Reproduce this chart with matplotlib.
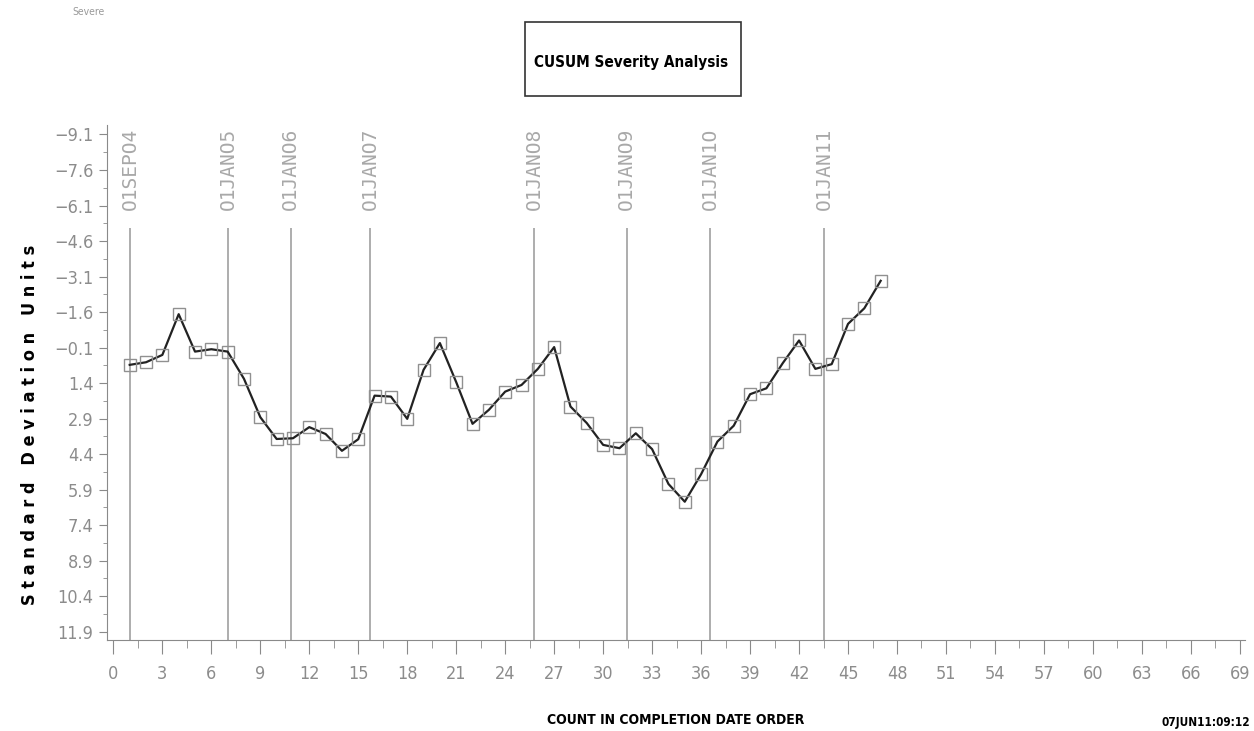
import matplotlib
matplotlib.use("Agg")
import matplotlib.pyplot as plt
from matplotlib.patches import Rectangle
from matplotlib.ticker import MultipleLocator, FixedLocator

# cumulative severity, one point per completed case
count = list(range(1, 48))
cusum = [0.63, 0.52, 0.21, -1.51, 0.07, -0.03, 0.07, 1.22, 2.84, 3.76,
         3.73, 3.26, 3.55, 4.26, 3.77, 1.93, 1.97, 2.91, 0.84, -0.29,
         1.36, 3.12, 2.53, 1.76, 1.48, 0.80, -0.12, 2.39, 3.09, 4.01,
         4.15, 3.52, 4.19, 5.66, 6.41, 5.25, 3.87, 3.20, 1.87, 1.62,
         0.56, -0.40, 0.80, 0.60, -1.10, -1.76, -2.92]

# where each calendar boundary falls along the count axis
date_pos = [1.02, 7.04, 10.86, 15.72, 25.76, 31.44, 36.54, 43.54]
date_lbl = ["01SEP04", "01JAN05", "01JAN06", "01JAN07",
            "01JAN08", "01JAN09", "01JAN10", "01JAN11"]

yticks = [-9.1, -7.6, -6.1, -4.6, -3.1, -1.6, -0.1, 1.4, 2.9, 4.4,
          5.9, 7.4, 8.9, 10.4, 11.9]
xticks = list(range(0, 70, 3))

narrow = dict(family="DejaVu Sans", fontstretch="condensed")
grey = "#8a8a8a"

fig = plt.figure(figsize=(12.54, 7.31), dpi=100)
ax = fig.add_axes([0.0856, 0.1245, 0.907, 0.7045])

ax.set_xlim(-0.37, 69.3)
ax.set_ylim(12.25, -9.5)

ax.vlines(date_pos, 12.25, -5.15, color="#a0a0a0", lw=1.2)
for x, s in zip(date_pos, date_lbl):
    ax.text(x, -5.9, s.replace("0", "O"), rotation=90, ha="center", va="bottom",
            family="DejaVu Sans Mono", fontsize=14, color="#a8a8a8")

ax.plot(count, cusum, color="#222222", lw=1.6, marker="s", markersize=8,
        markerfacecolor="none", markeredgecolor="#909090", markeredgewidth=1)

for side in ["top", "right"]:
    ax.spines[side].set_visible(False)
for side in ["left", "bottom"]:
    ax.spines[side].set_color(grey)

ax.set_yticks(yticks)
ax.set_yticklabels([f"{v:.1f}".replace("-", "\u2212") for v in yticks])
ax.yaxis.set_minor_locator(FixedLocator([v + 0.75 for v in yticks[:-1]]))
ax.set_xticks(xticks)
ax.xaxis.set_minor_locator(MultipleLocator(1.5))

ax.tick_params(axis="both", which="both", colors=grey, labelcolor="#8c8c8c")
ax.tick_params(axis="y", which="major", length=6, pad=4)
ax.tick_params(axis="y", which="minor", length=3)
ax.tick_params(axis="x", which="major", length=10, pad=8)
ax.tick_params(axis="x", which="minor", length=6)
for lab in ax.get_xticklabels() + ax.get_yticklabels():
    lab.set_family("DejaVu Sans")
    lab.set_fontstretch("condensed")
    lab.set_fontsize(13)

fig.text(0.024, 0.419, "S t a n d a r d   D e v i a t i o n   U n i t s",
         rotation=90, ha="center", va="center", fontweight="bold",
         fontsize=13, **narrow)
fig.text(0.539, 0.015, "COUNT IN COMPLETION DATE ORDER", ha="center",
         va="center", fontweight="bold", fontsize=10, **narrow)

# boxed title
fig.add_artist(Rectangle((0.4187, 0.869), 0.1722, 0.1008, transform=fig.transFigure,
                         fc="white", ec="#333333", lw=1.2))
fig.text(0.503, 0.915, "CUSUM Severity Analysis", ha="center", va="center",
         fontweight="bold", fontsize=11, **narrow)

fig.text(0.0574, 0.984, "Severe", fontsize=7.5, color="#999999", va="center",
         **narrow)
fig.text(0.997, 0.011, "07JUN11:09:12", ha="right", va="center",
         fontweight="bold", fontsize=8.5, **narrow)

fig.savefig("out.png", dpi=100)
